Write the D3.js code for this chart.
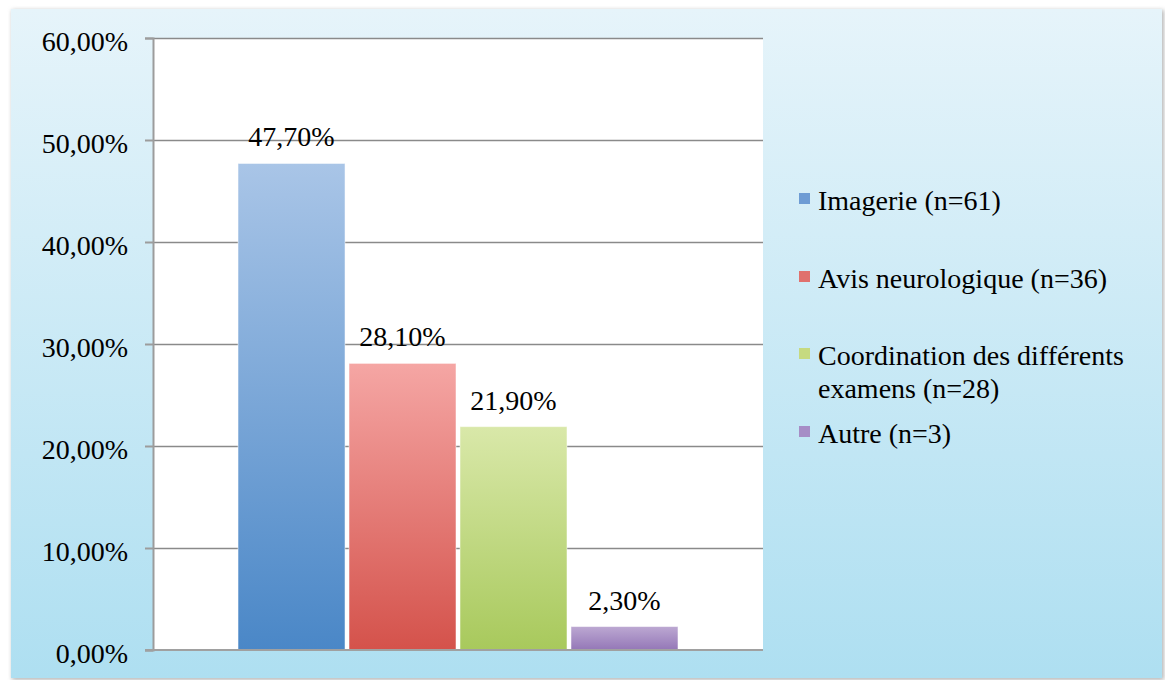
<!DOCTYPE html>
<html><head><meta charset="utf-8">
<script src="https://cdn.jsdelivr.net/npm/d3@7"></script>
<style>body{margin:0;background:#fff;} svg{display:block;}</style>
</head><body>
<svg id="c" width="1165" height="680"></svg>
<script>
const categories = ["Imagerie (n=61)", "Avis neurologique (n=36)", "Coordination des différents examens (n=28)", "Autre (n=3)"];
const legendLines = [["Imagerie (n=61)"], ["Avis neurologique (n=36)"], ["Coordination des différents", "examens (n=28)"], ["Autre (n=3)"]];
const values = [47.7, 28.1, 21.9, 2.3];
const yTicks = [0, 10, 20, 30, 40, 50, 60];
const colorsTop = ["#a9c5e7", "#f5a6a4", "#d9e8a9", "#bca8d2"];
const colorsBottom = ["#4a87c7", "#d4524b", "#a8c95c", "#9477b7"];
const legendColors = ["#6e9cd4", "#e0716d", "#c6da80", "#a68dc6"];

const FONT = "'Liberation Serif', 'DejaVu Serif', serif";
const svg = d3.select("#c");
const defs = svg.append("defs");

const bg = defs.append("linearGradient").attr("id","bg").attr("x1",0).attr("y1",0).attr("x2",0).attr("y2",1);
bg.append("stop").attr("offset","0%").attr("stop-color","#e6f4fa");
bg.append("stop").attr("offset","100%").attr("stop-color","#aedff1");
const blur = defs.append("filter").attr("id","sh").attr("x","-5%").attr("y","-5%").attr("width","110%").attr("height","110%");
blur.append("feGaussianBlur").attr("stdDeviation",2);

categories.forEach((c,i)=>{
  const g = defs.append("linearGradient").attr("id","g"+i).attr("x1",0).attr("y1",0).attr("x2",0).attr("y2",1);
  g.append("stop").attr("offset","0%").attr("stop-color",colorsTop[i]);
  g.append("stop").attr("offset","100%").attr("stop-color",colorsBottom[i]);
});

// chart box with shadow
svg.append("rect").attr("x",12).attr("y",10).attr("width",1152).attr("height",670).attr("fill","#b8b8b8").attr("filter","url(#sh)");
svg.append("rect").attr("x",11).attr("y",9).attr("width",1151).attr("height",669).attr("fill","url(#bg)");

const x0 = 153, x1 = 763, yTop = 38, yBot = 650;
const y = d3.scaleLinear().domain([0,60]).range([yBot,yTop]);
const x = d3.scaleBand().domain(categories).range([x0,x1]).paddingInner(0.036).paddingOuter(0.766);

// plot area
svg.append("rect").attr("x",x0).attr("y",yTop).attr("width",x1-x0).attr("height",yBot-yTop).attr("fill","#fff");

// gridlines
const grid = d3.axisLeft(y).tickValues(yTicks.filter(d=>d>0)).tickSize(-(x1-x0)).tickFormat("");
svg.append("g").attr("transform",`translate(${x0},0)`).call(grid)
  .call(g=>g.select(".domain").remove())
  .call(g=>g.selectAll("line").attr("stroke","#8a8a8a").attr("stroke-width",1.5));

// bars
svg.append("g").selectAll("rect").data(values).join("rect")
  .attr("x",(d,i)=>x(categories[i]))
  .attr("y",d=>y(d))
  .attr("width",x.bandwidth())
  .attr("height",d=>y(0)-y(d))
  .attr("fill",(d,i)=>`url(#g${i})`)
  .attr("stroke","rgba(255,255,255,0.5)").attr("stroke-width",1);

// axis
const fmt = v => d3.format(".2f")(v).replace(".", ",") + "%";
const yAxis = d3.axisLeft(y).tickValues(yTicks).tickSize(8).tickPadding(17).tickFormat(fmt);
svg.append("g").attr("transform",`translate(${x0},0)`).call(yAxis)
  .call(g=>g.select(".domain").attr("stroke","#9c9c9c").attr("stroke-width",2))
  .call(g=>g.selectAll(".tick line").attr("stroke","#9c9c9c").attr("stroke-width",2))
  .call(g=>g.selectAll("text").attr("font-family",FONT).attr("font-size",28).attr("fill","#000").attr("dy","0.43em"));
// bottom axis line
svg.append("line").attr("x1",x0-8).attr("x2",x1).attr("y1",y(0)).attr("y2",y(0)).attr("stroke","#a0a0a0").attr("stroke-width",2);

// value labels
svg.append("g").selectAll("text").data(values).join("text")
  .attr("x",(d,i)=>x(categories[i])+x.bandwidth()/2)
  .attr("y",d=>y(d)-17)
  .attr("text-anchor","middle")
  .attr("font-family",FONT).attr("font-size",28).attr("fill","#000")
  .text(d=>fmt(d));

// legend
const legendY = [210, 288, 365, 443];
const lg = svg.append("g");
legendLines.forEach((lines,i)=>{
  lg.append("rect").attr("x",799).attr("y",legendY[i]-17).attr("width",11).attr("height",11).attr("fill",legendColors[i]);
  const t = lg.append("text").attr("x",818).attr("y",legendY[i]).attr("font-family",FONT).attr("font-size",28).attr("fill","#000");
  lines.forEach((l,j)=>t.append("tspan").attr("x",818).attr("dy",j?33:0).text(l));
});
</script>
</body></html>
